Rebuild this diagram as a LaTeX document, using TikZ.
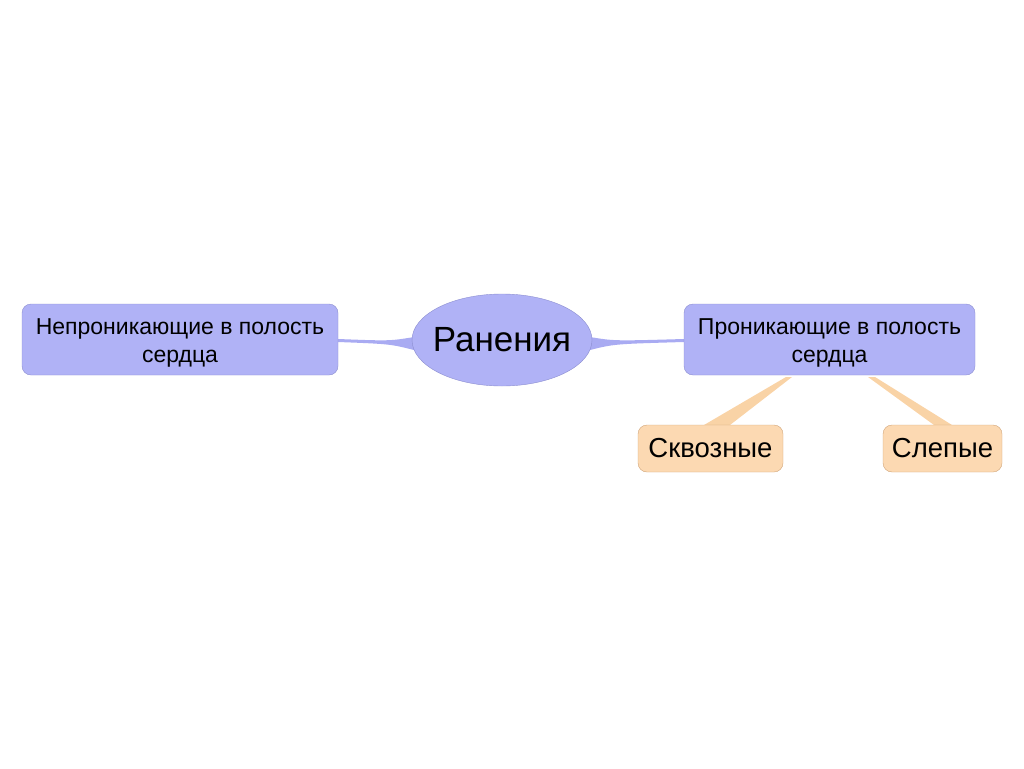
\documentclass[tikz,border=0pt]{standalone}
\usepackage{fontspec}
\setmainfont{Liberation Sans}
\usetikzlibrary{shapes.geometric}
\definecolor{bfill}{HTML}{B0B2F6}
\definecolor{bdraw}{HTML}{8C8ED0}
\definecolor{ofill}{HTML}{FCD9B2}
\definecolor{odraw}{HTML}{D0A478}
\definecolor{blink}{HTML}{A9ABF2}
\definecolor{olink}{HTML}{F9D3A6}
\begin{document}
\begin{tikzpicture}[x=1pt,y=-1pt,
  bbox/.style={draw=bdraw,fill=bfill,rounded corners=9pt,align=center,font=\fontsize{23}{28}\selectfont,inner sep=0pt},
  obox/.style={draw=odraw,fill=ofill,rounded corners=9pt,align=center,font=\fontsize{27.5}{30}\selectfont,inner sep=0pt}]
\useasboundingbox (0,0) rectangle (1024,768);
% connectors
\fill[blink] (414,337) .. controls (390,341) .. (338,339) -- (338,342) .. controls (390,344) .. (414,350) -- cycle;
\fill[blink] (590,337) .. controls (614,341) .. (684,339) -- (684,342) .. controls (614,344) .. (590,350) -- cycle;
\fill[olink] (786,377) -- (792,377) -- (730,425) -- (704,425) -- cycle;
\fill[olink] (868,377) -- (875,377) -- (952,425) -- (934,425) -- cycle;
% nodes
\node[draw=bdraw,fill=bfill,ellipse,minimum width=180pt,minimum height=92pt,inner xsep=-20pt,inner ysep=0pt,font=\fontsize{35}{38}\selectfont] (root) at (502,340) {Ранения};
\node[bbox,minimum width=316pt,minimum height=71pt] (left) at (180,339.5) {\rule{0pt}{22pt}Непроникающие в полость\\сердца};
\node[bbox,minimum width=291pt,minimum height=71pt] (right) at (829.5,339.5) {\rule{0pt}{22pt}Проникающие в полость\\сердца};
\node[obox,minimum width=145pt,minimum height=47pt] (a) at (710.5,448.5) {Сквозные};
\node[obox,minimum width=119pt,minimum height=47pt] (b) at (942.5,448.5) {Слепые};
\end{tikzpicture}
\end{document}
